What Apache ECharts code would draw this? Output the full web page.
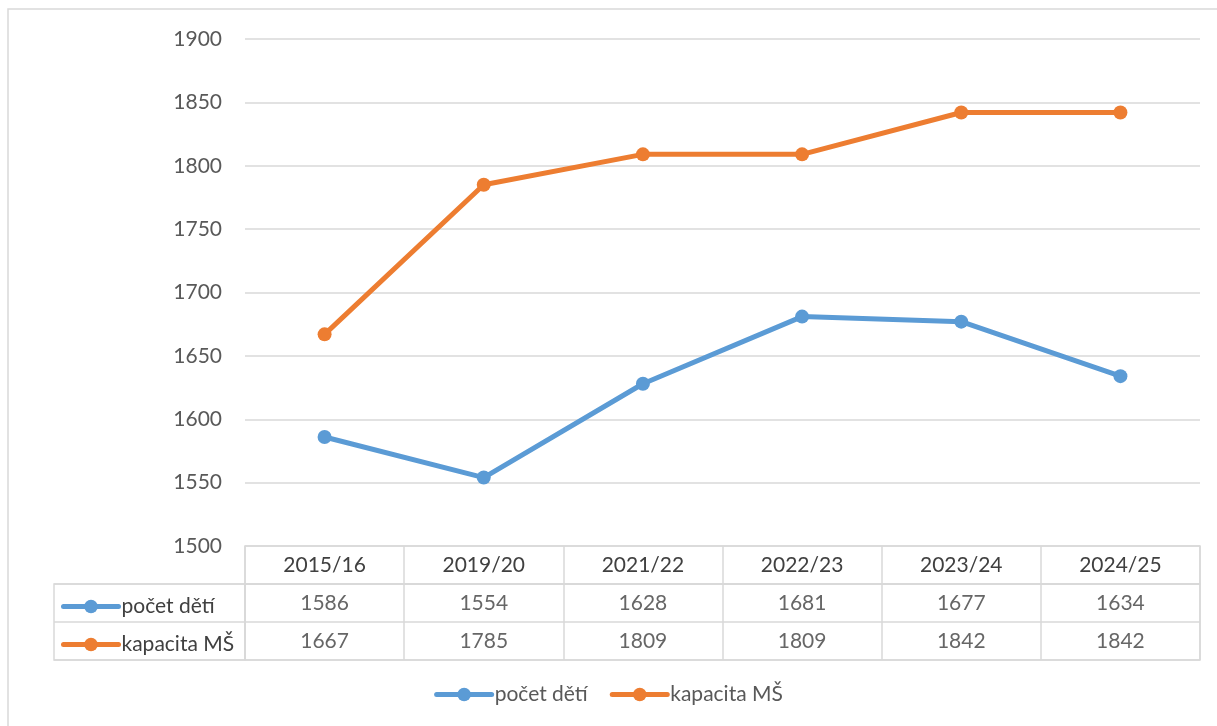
<!DOCTYPE html>
<html>
<head>
<meta charset="UTF-8">
<title>počet dětí / kapacita MŠ</title>
<script src="https://cdn.jsdelivr.net/npm/echarts@6/dist/echarts.min.js"></script>
<style>
  html, body { margin: 0; padding: 0; background: #fff; }
  #main { width: 1217px; height: 726px; }
</style>
</head>
<body>
<div id="main"></div>
<script type="text/javascript">
    var categories = ["2015/16", "2019/20", "2021/22", "2022/23", "2023/24", "2024/25"];
    var pocetDeti = [1586, 1554, 1628, 1681, 1677, 1634];
    var kapacitaMS = [1667, 1785, 1809, 1809, 1842, 1842];
    var rowNames = ["počet dětí", "kapacita MŠ"];

    var font = "Lato";
    var lineGray = "#d9d9d9";
    var blue = "#5b9bd5";
    var orange = "#ed7d31";

    // cells of the data table: [column, row, value]
    function rowCells(values, row) {
        return values.map(function (v, i) { return [i, row, v]; });
    }

    var myChart = echarts.init(document.getElementById('main'));

    var option = {
        animation: false,
        textStyle: { fontFamily: font },
        graphic: [{
            type: 'rect',
            shape: { x: 8, y: 9, width: 1400, height: 900 },
            style: { fill: 'none', stroke: lineGray, lineWidth: 1.5 },
            silent: true
        }],
        legend: [
            {
                // legend below the table
                data: rowNames,
                left: 'center',
                top: 679,
                itemWidth: 55,
                itemHeight: 17,
                itemGap: 22,
                lineStyle: { width: 5, cap: 'round' },
                textStyle: { fontFamily: font, fontSize: 21, color: '#595959', padding: [0, 0, 0, -2] }
            },
            {
                // legend keys inside the table
                data: rowNames,
                orient: 'vertical',
                left: 56,
                top: 589,
                itemWidth: 55,
                itemHeight: 17,
                itemGap: 13,
                selectedMode: false,
                lineStyle: { width: 5, cap: 'round' },
                textStyle: { fontFamily: font, fontSize: 21, color: '#404040', lineHeight: 25, padding: [0, 0, 0, -2] }
            }
        ],
        grid: [
            { left: 245, right: 17, top: 39, height: 507 },
            { left: 245, right: 17, top: 546, height: 38, show: true, borderColor: lineGray, borderWidth: 1.5 },
            { left: 245, right: 17, top: 584, height: 76, show: true, borderColor: lineGray, borderWidth: 1.5 },
            { left: 54, width: 191, top: 584, height: 76, show: true, borderColor: lineGray, borderWidth: 1.5 }
        ],
        xAxis: [
            {
                gridIndex: 0,
                type: 'category',
                data: categories,
                boundaryGap: true,
                axisLine: { show: false },
                axisTick: { show: false },
                axisLabel: { margin: 9, fontSize: 21, color: '#404040', fontFamily: font }
            },
            {
                gridIndex: 1,
                type: 'category',
                data: categories,
                axisLine: { show: false },
                axisTick: { show: false },
                axisLabel: { show: false },
                splitLine: { show: true, interval: 0, lineStyle: { color: lineGray, width: 1.5 } }
            },
            {
                gridIndex: 2,
                type: 'category',
                data: categories,
                axisLine: { show: false },
                axisTick: { show: false },
                axisLabel: { show: false },
                splitLine: { show: true, interval: 0, lineStyle: { color: lineGray, width: 1.5 } }
            },
            { gridIndex: 3, type: 'value', show: false }
        ],
        yAxis: [
            {
                gridIndex: 0,
                type: 'value',
                min: 1500,
                max: 1900,
                interval: 50,
                axisLine: { show: false },
                axisTick: { show: false },
                axisLabel: {
                    margin: 23, fontSize: 21, color: '#595959', fontFamily: font,
                    formatter: function (v) { return String(v); }
                },
                splitLine: { lineStyle: { color: lineGray, width: 1.5 } }
            },
            { gridIndex: 1, type: 'value', show: false },
            {
                gridIndex: 2,
                type: 'category',
                data: rowNames,
                inverse: true,
                axisLine: { show: false },
                axisTick: { show: false },
                axisLabel: { show: false },
                splitLine: { show: true, interval: 0, lineStyle: { color: lineGray, width: 1.5 } }
            },
            {
                gridIndex: 3,
                type: 'category',
                data: rowNames,
                inverse: true,
                axisLine: { show: false },
                axisTick: { show: false },
                axisLabel: { show: false },
                splitLine: { show: true, interval: 0, lineStyle: { color: lineGray, width: 1.5 } }
            }
        ],
        series: [
            {
                name: rowNames[0],
                type: 'line',
                data: pocetDeti,
                symbol: 'circle',
                symbolSize: 14,
                lineStyle: { width: 5, color: blue },
                itemStyle: { color: blue }
            },
            {
                name: rowNames[1],
                type: 'line',
                data: kapacitaMS,
                symbol: 'circle',
                symbolSize: 14,
                lineStyle: { width: 5, color: orange },
                itemStyle: { color: orange }
            },
            {
                name: 'table',
                type: 'scatter',
                xAxisIndex: 2,
                yAxisIndex: 2,
                symbolSize: 1,
                itemStyle: { color: 'transparent' },
                silent: true,
                label: {
                    show: true,
                    position: 'inside',
                    fontFamily: font,
                    fontSize: 21,
                    color: '#404040',
                    formatter: function (p) { return p.value[2]; }
                },
                data: rowCells(pocetDeti, 0).concat(rowCells(kapacitaMS, 1))
            }
        ]
    };

    myChart.setOption(option);
</script>
</body>
</html>
